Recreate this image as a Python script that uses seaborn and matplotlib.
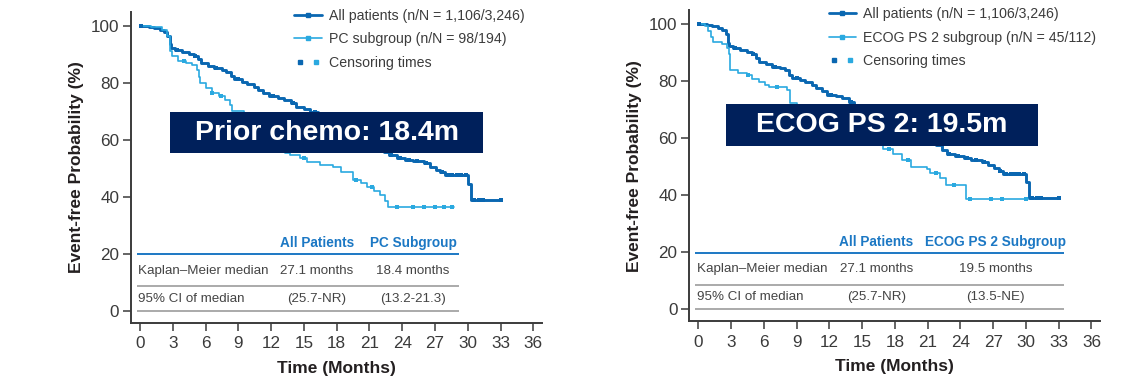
import numpy as np
import pandas as pd
import matplotlib
matplotlib.use("Agg")
import matplotlib.pyplot as plt
import seaborn as sns
from matplotlib.lines import Line2D
from matplotlib.patches import Rectangle
from matplotlib.legend_handler import HandlerTuple

sns.set_theme(style="ticks")
plt.rcParams["font.family"] = ["Liberation Sans", "DejaVu Sans"]

# ---- Kaplan-Meier step data (months, event-free %) ----
all_t = [0, 0.8, 1.3, 1.8, 2.2, 2.5, 2.7, 2.8, 3.2, 3.8, 4.5, 4.9, 5.3, 5.6, 6.2, 6.8, 7.5, 7.9,
         8.3, 8.6, 9.3, 9.8, 10.4, 10.8, 11.3, 11.8, 12.6, 13.2, 13.8, 14.3, 15.0, 15.6, 16.3, 17.0,
         18.0, 19.0, 20.0, 21.0, 21.8, 22.3, 22.8, 23.5, 24.3, 25.0, 26.0, 26.5, 27.1, 27.5, 27.9,
         30.0, 30.3, 33.0]
all_s = [100, 99.6, 99.2, 98.5, 97.8, 96.5, 93.5, 92.2, 91.6, 90.8, 90.2, 89.5, 88.3, 86.9, 86.0,
         85.1, 84.5, 83.8, 82.2, 81.2, 80.4, 79.6, 78.5, 77.5, 76.5, 75.3, 74.8, 74.0, 72.8, 71.6,
         70.8, 69.8, 68.8, 67.5, 65.8, 64.0, 62.0, 59.5, 57.5, 55.8, 54.6, 53.6, 53.0, 52.4, 51.7,
         50.6, 49.4, 48.5, 47.6, 44.5, 39.0, 39.0]
all_cens = [0.1, 3.4, 5.0, 7.0, 9.0, 12.2, 14.0, 16.0, 23.0, 23.8, 24.6, 25.4, 26.2, 27.6, 28.2,
            28.6, 29.0, 29.4, 29.8, 30.6, 31.0, 31.4, 33.0]

pc_t = [0, 1.0, 2.0, 2.5, 2.7, 2.9, 3.5, 4.2, 4.8, 5.2, 5.4, 5.5, 6.0, 6.6, 7.2, 7.8, 8.2, 8.4,
        9.5, 10.5, 11.5, 12.5, 13.3, 13.7, 14.6, 15.3, 16.5, 17.7, 18.4, 19.5, 20.2, 20.8, 21.4,
        22.0, 22.4, 22.7, 28.7]
pc_s = [100, 99.5, 98.5, 96.5, 91.0, 89.2, 87.5, 87.0, 86.3, 84.5, 82.0, 79.9, 78.1, 76.5, 75.3,
        74.0, 72.2, 69.9, 66.0, 63.0, 60.0, 57.5, 55.5, 54.6, 53.5, 52.3, 51.0, 50.5, 48.5, 45.9,
        44.8, 43.5, 42.0, 40.6, 38.5, 36.5, 36.5]
pc_cens = [4.0, 6.6, 7.4, 15.0, 19.8, 21.2, 23.5, 25.0, 26.0, 27.0, 27.8, 28.6]

ec_t = [0, 0.6, 0.9, 1.2, 1.4, 2.2, 2.6, 2.8, 2.95, 3.6, 4.5, 4.9, 5.6, 6.1, 6.5, 8.1, 8.4, 9.0,
        10.5, 12.0, 13.5, 15.0, 16.0, 16.9, 17.8, 18.7, 19.5, 20.9, 21.2, 22.1, 22.7, 24.5, 30.2]
ec_s = [100, 99.4, 97.5, 95.5, 93.8, 93.2, 91.5, 89.5, 83.9, 82.7, 82.1, 80.9, 79.7, 78.6, 77.8,
        76.8, 72.2, 70.0, 66.0, 63.0, 60.5, 58.5, 57.5, 56.3, 54.5, 52.4, 49.8, 49.2, 47.8, 46.0,
        43.6, 38.5, 38.5]
ec_cens = [4.6, 7.2, 17.5, 19.2, 21.8, 23.4, 24.9, 26.8, 27.8, 30.0]

# ---- labels ----
x_ticks = list(range(0, 37, 3))
y_ticks = [0, 20, 40, 60, 80, 100]
left_legend = ["All patients (n/N = 1,106/3,246)", "PC subgroup (n/N = 98/194)", "Censoring times"]
right_legend = ["All patients (n/N = 1,106/3,246)", "ECOG PS 2 subgroup (n/N = 45/112)", "Censoring times"]
left_header = ["All Patients", "PC Subgroup"]
right_header = ["All Patients", "ECOG PS 2 Subgroup"]
row_names = ["Kaplan\u2013Meier median", "95% CI of median"]
left_cells = [["27.1 months", "18.4 months"], ["(25.7-NR)", "(13.2-21.3)"]]
right_cells = [["27.1 months", "19.5 months"], ["(25.7-NR)", "(13.5-NE)"]]
left_banner = "Prior chemo: 18.4m"
right_banner = "ECOG PS 2: 19.5m"

DARK = "#0a67b1"
LIGHT = "#2aa9e0"
NAVY = "#00205b"
HEAD = "#1c78c4"
TXT = "#3a3a3a"
GRID = "#9c9c9c"


def censor_points(t, s, cens):
    t = np.asarray(t)
    s = np.asarray(s)
    idx = np.searchsorted(t, cens, side="right") - 1
    return pd.DataFrame({"t": cens, "s": s[idx]})


def draw_panel(ax, sub_t, sub_s, sub_c, legend_labels, header, cells, banner,
               legend_x, box, col_x, table_right):
    for t, s, c, col, lw in [(all_t, all_s, all_cens, DARK, 2.1), (sub_t, sub_s, sub_c, LIGHT, 1.2)]:
        df = pd.DataFrame({"t": t, "s": s})
        sns.lineplot(data=df, x="t", y="s", ax=ax, color=col, lw=lw, drawstyle="steps-post",
                     zorder=3 if col == LIGHT else 2)
        cp = censor_points(t, s, c)
        sns.scatterplot(data=cp, x="t", y="s", ax=ax, color=col, marker="s", s=8,
                        linewidth=0, zorder=4)

    ax.set_xlim(-0.82, 36.8)
    ax.set_ylim(-4.3, 104.9)
    ax.set_xticks(x_ticks)
    ax.set_yticks(y_ticks)
    ax.tick_params(axis="both", colors="#3b3b3b", labelcolor=TXT, labelsize=12.3,
                   length=6, width=1.1, direction="out")
    ax.tick_params(axis="x", pad=3.5)
    ax.tick_params(axis="y", pad=2.5)
    sns.despine(ax=ax)
    for sp in ("left", "bottom"):
        ax.spines[sp].set_color("#3b3b3b")
        ax.spines[sp].set_linewidth(1.4)
    ax.set_xlabel("Time (Months)", fontsize=12.5, fontweight="bold", color="#231f20", labelpad=7)
    ax.set_ylabel("Event-free Probability (%)", fontsize=12.5, fontweight="bold",
                  color="#231f20", labelpad=5)

    # legend
    h_all = Line2D([], [], color=DARK, lw=2.0, marker="s", ms=3.5)
    h_sub = Line2D([], [], color=LIGHT, lw=1.2, marker="s", ms=3.5)
    h_cd = Line2D([], [], color=DARK, lw=0, marker="s", ms=3.5)
    h_cl = Line2D([], [], color=LIGHT, lw=0, marker="s", ms=3.5)
    leg = ax.legend([h_all, h_sub, (h_cd, h_cl)], legend_labels, loc="upper left",
                    bbox_to_anchor=(legend_x, 1.01), frameon=False, fontsize=10.2,
                    handlelength=1.95, handletextpad=0.5, labelspacing=0.68, borderpad=0,
                    borderaxespad=0, numpoints=1,
                    handler_map={tuple: HandlerTuple(ndivide=None, pad=0.3)})
    for txt in leg.get_texts():
        txt.set_color("#3c3c3c")

    # summary table
    ax.hlines(19.8, -0.3, table_right, color=HEAD, lw=1.4, zorder=2)
    ax.hlines([8.6, 0.0], -0.3, table_right, color=GRID, lw=1.2, zorder=2)
    for x, h in zip(col_x, header):
        ax.text(x, 23.6, h, ha="center", va="center", fontsize=9.8, fontweight="bold", color=HEAD)
    for r, (name, y) in enumerate(zip(row_names, [14.0, 4.2])):
        ax.text(-0.15, y, name, ha="left", va="center", fontsize=9.6, color="#444444")
        for x, val in zip(col_x, cells[r]):
            ax.text(x, y, val, ha="center", va="center", fontsize=9.6, color="#444444")

    # banner
    x0, y0, w, h = box
    ax.add_patch(Rectangle((x0, y0), w, h, transform=ax.transAxes, facecolor=NAVY,
                           edgecolor="none", zorder=6, clip_on=False))
    ax.text(x0 + w / 2, y0 + h / 2, banner, transform=ax.transAxes, ha="center", va="center",
            fontsize=20.5, fontweight="bold", color="white", zorder=7)


fig = plt.figure(figsize=(11.22, 3.78), dpi=100)
ax1 = fig.add_axes([0.1168, 0.1455, 0.3663, 0.8235])
ax2 = fig.add_axes([0.6143, 0.1495, 0.3663, 0.8235])

draw_panel(ax1, pc_t, pc_s, pc_cens, left_legend, left_header, left_cells, left_banner,
           legend_x=0.397, box=(0.0949, 0.545, 0.7615, 0.133), col_x=[16.2, 25.0],
           table_right=29.2)
draw_panel(ax2, ec_t, ec_s, ec_cens, right_legend, right_header, right_cells, right_banner,
           legend_x=0.339, box=(0.0891, 0.5645, 0.7599, 0.1345), col_x=[16.3, 27.2],
           table_right=33.5)

fig.savefig("out.png", dpi=100, facecolor="white")
